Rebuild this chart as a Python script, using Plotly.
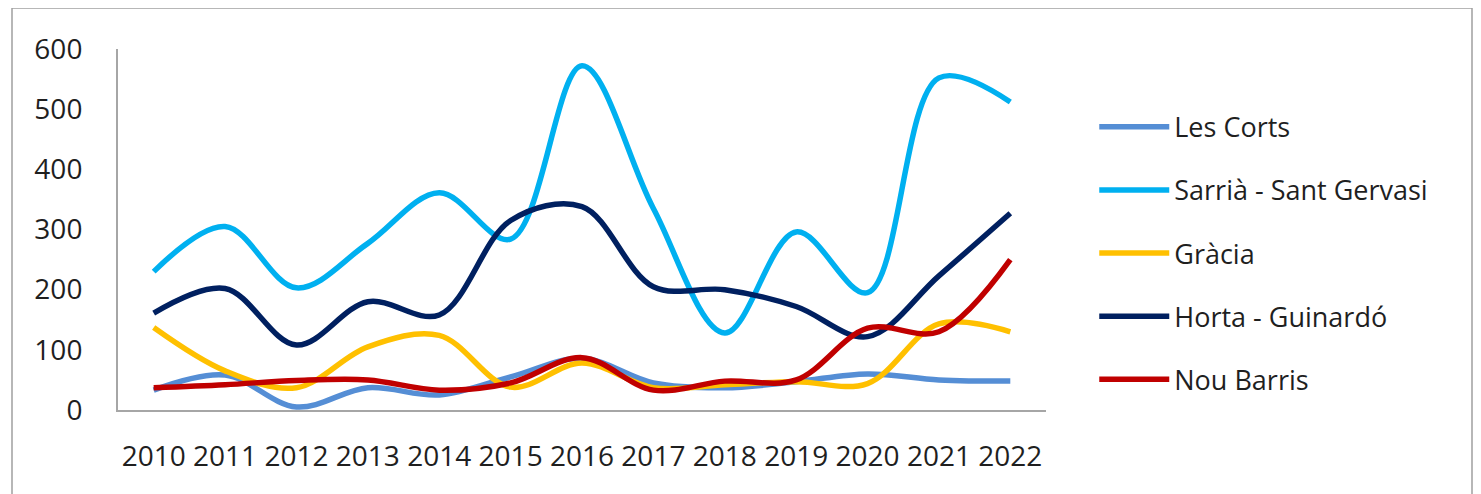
import plotly.graph_objects as go

years = ["2010", "2011", "2012", "2013", "2014", "2015", "2016", "2017", "2018", "2019", "2020", "2021", "2022"]
les_corts = [33, 58, 5, 37, 25, 55, 86, 45, 37, 47, 60, 50, 48]
sarria = [230, 305, 203, 277, 361, 284, 572, 335, 128, 296, 195, 552, 512]
gracia = [137, 65, 37, 105, 124, 38, 78, 37, 42, 47, 44, 143, 130]
horta = [161, 202, 108, 180, 158, 315, 338, 205, 200, 172, 122, 223, 327]
nou_barris = [37, 42, 49, 50, 33, 45, 87, 33, 48, 50, 136, 130, 250]

series = [
    ("Les Corts", les_corts, "#558ED5"),
    ("Sarrià - Sant Gervasi", sarria, "#00B0F0"),
    ("Gràcia", gracia, "#FFC000"),
    ("Horta - Guinardó", horta, "#002060"),
    ("Nou Barris", nou_barris, "#C00000"),
]

fig = go.Figure()
for i, (name, vals, col) in enumerate(series):
    fig.add_trace(go.Scatter(
        x=years, y=vals, name=name, mode="lines",
        line=dict(color=col, width=5.5, shape="spline", smoothing=1.0),
        legendgroup=f"g{i}",
    ))

FONT = "Open Sans"
TXT = "#1F1F1F"
fig.update_layout(
    width=1481, height=494,
    margin=dict(l=110, r=443, t=41, b=92),
    paper_bgcolor="white", plot_bgcolor="white",
    font=dict(family=FONT, size=27, color=TXT),
    showlegend=True,
    legend=dict(
        x=1.052, xanchor="left", y=0.851, yanchor="top",
        font=dict(family=FONT, size=27, color=TXT),
        tracegroupgap=25, itemwidth=70,
        bgcolor="rgba(0,0,0,0)",
    ),
    xaxis=dict(
        type="category", showgrid=False, showline=True, linecolor="#A6A6A6", linewidth=2,
        ticks="", ticklabelstandoff=20, tickfont=dict(family=FONT, size=28, color=TXT),
        range=[-0.5, 12.5],
    ),
    yaxis=dict(
        range=[0, 600], dtick=100, showgrid=False, showline=True, linecolor="#A6A6A6", linewidth=2,
        ticks="", ticklabelstandoff=28, tickfont=dict(family=FONT, size=28, color=TXT),
        zeroline=False,
    ),
    shapes=[dict(
        type="rect", xref="paper", yref="paper",
        x0=(12 - 118) / 928, x1=(1472 - 118) / 928,
        y0=(410 - 520) / 361, y1=(410 - 8) / 361,
        line=dict(color="#A0A0A0", width=1.5), fillcolor="rgba(0,0,0,0)", layer="below",
    )],
)

fig.write_html("out.html")
